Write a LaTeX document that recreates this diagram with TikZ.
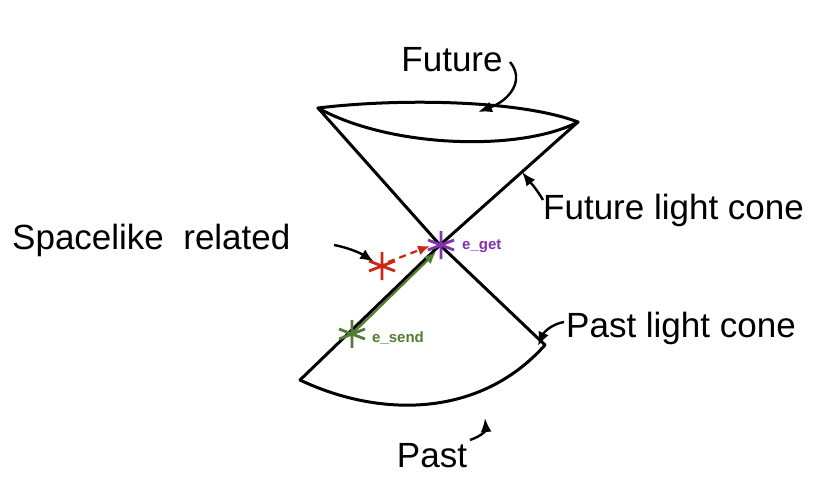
\documentclass[tikz,border=0pt]{standalone}
\usepackage{fontspec}
\setmainfont{Liberation Sans}
\usetikzlibrary{arrows.meta}
\definecolor{sgreen}{RGB}{80,125,50}
\definecolor{sred}{RGB}{200,40,20}
\definecolor{spurple}{RGB}{130,50,170}
\tikzset{lbl/.style={font=\fontsize{35}{40}\selectfont,inner sep=0pt},
  cone/.style={line width=3pt,line cap=round,line join=round},
  pt/.style={font=\fontsize{15}{18}\selectfont\bfseries,inner sep=0pt,anchor=west},
  callout/.style={line width=2.4pt,-{Latex[length=14pt,width=11pt]}},
  star/.pic={\draw[line width=2.8pt] (0,-14) -- (0,14) (-13,-5) -- (13,5) (-13,5) -- (13,-5);}}
\begin{document}
\begin{tikzpicture}[x=1pt,y=-1pt]
\useasboundingbox (0,0) rectangle (816,490);
\coordinate (apex) at (440,245);
\coordinate (tl) at (318,108);
\coordinate (tr) at (578,122);
\coordinate (bl) at (300,380);
\coordinate (br) at (545,345);
% cone sides
\draw[cone] (tl) -- (apex) -- (br);
\draw[cone] (tr) -- (apex) -- (bl);
% top rim
\draw[cone] (tl) .. controls (400,98) and (520,100) .. (tr);
\draw[cone] (tl) .. controls (390,148) and (520,152) .. (tr);
% bottom rim
\draw[cone] (bl) .. controls (380,418) and (480,418) .. (br);
% labels
\node[lbl] (fut) at (452,60) {Future};
\node[lbl,anchor=west] (flc) at (543,210) {Future light cone};
\node[lbl,anchor=west] (spr) at (12,240) {Spacelike\ \ related};
\node[lbl,anchor=west] (plc) at (566,328) {Past light cone};
\node[lbl] (past) at (432,456) {Past};
\coordinate (futA) at (478,112);
\coordinate (flcA) at (522,172);
\coordinate (sprA) at (374,262);
\coordinate (plcA) at (538,346);
\coordinate (pastA) at (485,418);
\draw[callout] (510,62) .. controls (525,80) and (510,100) .. (futA);
\draw[callout] (543,200) .. controls (536,188) and (530,182) .. (flcA);
\draw[callout] (334,245) .. controls (350,248) and (362,254) .. (sprA);
\draw[callout] (564,322) .. controls (552,324) and (544,332) .. (plcA);
\draw[callout] (470,440) .. controls (482,436) and (486,430) .. (pastA);
% events
\pic[spurple] (eget) at (441,245) {star};
\pic[sred] (espl) at (382,266) {star};
\pic[sgreen] (esend) at (352,334) {star};
\draw[sgreen,line width=2.2pt,-{Latex[length=12pt,width=10pt]}] (352,334) -- (436,252);
\draw[sred,line width=2.2pt,dash pattern=on 7pt off 5pt,-{Latex[length=12pt,width=10pt]}] (388,262) -- (430,246);
\node[pt,text=spurple] at (462,246) {e\_get};
\node[pt,text=sgreen] at (372,338) {e\_send};
\end{tikzpicture}
\end{document}
